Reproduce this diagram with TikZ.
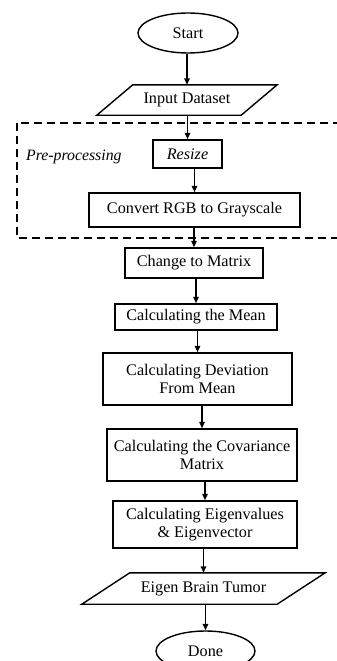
\documentclass[tikz,border=0pt]{standalone}
\usepackage{fontspec}
\setmainfont{Liberation Serif}
\usetikzlibrary{arrows.meta,shapes.geometric}
\tikzset{
  txt/.style={font=\fontsize{16.2}{18.5}\selectfont, align=center, inner sep=0pt},
  boxnode/.style={txt, draw, line width=1.5pt, rectangle},
  termnode/.style={txt, draw, line width=1.4pt, ellipse, minimum width=100pt, minimum height=40pt},
  paranode/.style={txt, rectangle, minimum height=30pt},
  paraline/.style={line width=1.4pt, line join=miter},
  arr/.style={line width=1.4pt, -{Triangle[length=6.5pt,width=5.5pt]}},
  groupbox/.style={line width=1.3pt, dash pattern=on 8pt off 5pt},
}
\begin{document}
\begin{tikzpicture}[x=1pt,y=-1pt]
\useasboundingbox (0,0) rectangle (337,661);
\clip (0,0) rectangle (337,661);

% pre-processing group
\draw[groupbox] (17,123) rectangle (350,238);
\node[txt, anchor=west, font=\fontsize{15.8}{18.5}\selectfont\itshape] (pre) at (26,157) {Pre-processing};

\node[termnode] (start) at (188,33) {Start};
\node[paranode, minimum width=144pt, minimum height=30pt] (input) at (187,100) {Input Dataset};
\draw[paraline] ([xshift=18pt]input.north west) -- ([xshift=18pt]input.north east)
  -- ([xshift=-18pt]input.south east) -- ([xshift=-18pt]input.south west) -- cycle;

\node[boxnode, minimum width=69pt, minimum height=28pt, font=\fontsize{16.2}{18.5}\selectfont\itshape] (resize) at (187.5,154) {Resize};
\node[boxnode, minimum width=211pt, minimum height=34pt] (gray) at (194.5,210) {Convert RGB to Grayscale};
\node[boxnode, minimum width=138pt, minimum height=30pt] (matrix) at (194,263) {Change to Matrix};
\node[boxnode, minimum width=162pt, minimum height=26pt] (mean) at (196,317) {Calculating the Mean};
\node[boxnode, minimum width=189pt, minimum height=52pt] (dev) at (197.5,379) {Calculating Deviation\\From Mean};
\node[boxnode, minimum width=190pt, minimum height=52pt] (cov) at (202,455) {Calculating the Covariance\\Matrix};
\node[boxnode, minimum width=184pt, minimum height=47pt] (eig) at (205,524.5) {Calculating Eigenvalues\\\& Eigenvector};

\node[paranode, minimum width=195pt, minimum height=31pt] (tumor) at (203.5,588.5) {Eigen Brain Tumor};
\draw[paraline] ([xshift=24pt]tumor.north west) -- ([xshift=24pt]tumor.north east)
  -- ([xshift=-24pt]tumor.south east) -- ([xshift=-24pt]tumor.south west) -- cycle;

\node[termnode, minimum width=99pt] (done) at (205.5,651) {Done};

\draw[arr] (start.south -| input.north) -- (input.north);
\draw[arr] (input.south -| resize.north) -- (resize.north);
\draw[arr] (resize.south -| gray.north) -- (gray.north);
\draw[arr] (gray.south -| matrix.north) -- (matrix.north);
\draw[arr] (matrix.south -| mean.north) -- (mean.north);
\draw[arr] (mean.south -| dev.north) -- (dev.north);
\draw[arr] (dev.south -| cov.north) -- (cov.north);
\draw[arr] (cov.south -| eig.north) -- (eig.north);
\draw[arr] (eig.south -| tumor.north) -- (tumor.north);
\draw[arr] (tumor.south -| done.north) -- (done.north);
\end{tikzpicture}
\end{document}
